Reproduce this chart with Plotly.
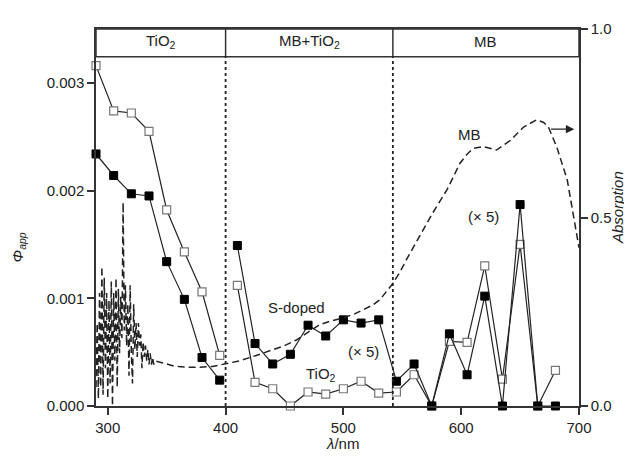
import plotly.graph_objects as go

# ---- data ----
wl = [290, 305, 320, 335, 350, 365, 380, 395, None,
      410, 425, 440, 455, 470, 485, 500, 515, 530,
      545, 560, 575, 590, 605, 620, 635, 650, 665, 680]

phi_tio2 = [0.00316, 0.00274, 0.00272, 0.00255, 0.00182, 0.00143, 0.00106, 0.00047, None,
            0.00112, 0.00022, 0.00016, 0.0, 0.00013, 0.00011, 0.00016, 0.00023, 0.00012,
            0.00013, 0.00029, 0.0, 0.00060, 0.00059, 0.00130, 0.00025, 0.00150, 0.0, 0.00033]

phi_sdoped = [0.00234, 0.00214, 0.00197, 0.00195, 0.00134, 0.00099, 0.00045, 0.00024, None,
              0.00149, 0.00058, 0.00039, 0.00048, 0.00075, 0.00065, 0.00080, 0.00077, 0.00080,
              0.00023, 0.00039, 0.0, 0.00067, 0.00029, 0.00102, 0.0, 0.00187, 0.0, 0.0]

mb_wl = list(range(290, 341)) + [345, 350, 355, 360, 367, 378, 389, 400, 412, 426, 440, 450,
                                  460, 470, 480, 490, 500, 510, 517, 525, 531, 541, 548, 554,
                                  565, 576, 588, 599, 605, 610, 619, 630, 642, 653, 664, 670,
                                  674, 681, 690, 698, 700]
mb_abs = [0.05, 0.22, 0.02, 0.30, 0.05, 0.37, 0.03, 0.34, 0.10, 0.30,
          0.02, 0.28, 0.06, 0.33, 0.00, 0.30, 0.12, 0.34, 0.05, 0.31,
          0.14, 0.29, 0.18, 0.54, 0.20, 0.32, 0.16, 0.27, 0.08, 0.32,
          0.14, 0.06, 0.27, 0.15, 0.22, 0.13, 0.22, 0.16, 0.19, 0.10,
          0.17, 0.13, 0.16, 0.12, 0.15, 0.11, 0.14, 0.11, 0.13, 0.11, 0.12,
          0.115, 0.11, 0.107, 0.105, 0.103, 0.103, 0.105, 0.112, 0.12, 0.134, 0.148, 0.16,
          0.175, 0.195, 0.216, 0.226, 0.234, 0.245, 0.256, 0.268, 0.282, 0.321, 0.355, 0.391,
          0.452, 0.513, 0.574, 0.644, 0.668, 0.683, 0.688, 0.679, 0.705, 0.74, 0.759, 0.752,
          0.74, 0.688, 0.6, 0.452, 0.42]

region_bounds = [290, 400, 542, 700]
region_labels = ["TiO<sub>2</sub>", "MB+TiO<sub>2</sub>", "MB"]

FONT = "Liberation Sans, Arial, sans-serif"
INK = "#222"

fig = go.Figure()

fig.add_trace(go.Scatter(
    x=mb_wl, y=mb_abs, mode="lines", yaxis="y2",
    line=dict(color=INK, width=1.5, dash="7px,4px"),
    showlegend=False, hoverinfo="skip"))

fig.add_trace(go.Scatter(
    x=wl, y=phi_tio2, mode="lines+markers", cliponaxis=False,
    line=dict(color=INK, width=1.2),
    marker=dict(symbol="square", size=8, color="white",
                line=dict(color="#777", width=1.2)),
    showlegend=False))

fig.add_trace(go.Scatter(
    x=wl, y=phi_sdoped, mode="lines+markers", cliponaxis=False,
    line=dict(color=INK, width=1.2),
    marker=dict(symbol="square", size=8, color="black",
                line=dict(color="black", width=1)),
    showlegend=False))

HDR_LO, HDR_HI = 0.003243, 0.0035
shapes = [dict(type="rect", xref="x", yref="y", x0=290, x1=700, y0=HDR_LO, y1=HDR_HI,
               line=dict(color="#333", width=1.5), fillcolor="rgba(0,0,0,0)")]
for xb in region_bounds[1:-1]:
    shapes.append(dict(type="line", xref="x", yref="y", x0=xb, x1=xb, y0=HDR_LO, y1=HDR_HI,
                       line=dict(color="#333", width=1.5)))
    shapes.append(dict(type="line", xref="x", yref="y", x0=xb, x1=xb, y0=0, y1=HDR_LO,
                       line=dict(color=INK, width=1.8, dash="dot")))

annotations = []
for i, lab in enumerate(region_labels):
    annotations.append(dict(x=(region_bounds[i] + region_bounds[i + 1]) / 2, y=0.00338,
                            xref="x", yref="y", text=lab, showarrow=False,
                            font=dict(family=FONT, size=15, color=INK)))

labels = [("MB", 607, 0.00252), ("(× 5)", 619, 0.00176), ("S-doped", 460, 0.00091),
          ("(× 5)", 517, 0.00051), ("TiO<sub>2</sub>", 481, 0.00029)]
for t, x, y in labels:
    annotations.append(dict(x=x, y=y, xref="x", yref="y", text=t, showarrow=False,
                            font=dict(family=FONT, size=15, color=INK)))

annotations.append(dict(x=696, y=0.00257, ax=675, ay=0.00257, xref="x", yref="y",
                        axref="x", ayref="y", text="", showarrow=True,
                        arrowhead=2, arrowsize=1.2, arrowwidth=1.4, arrowcolor=INK))

annotations.append(dict(x=0.511, y=-0.128, xref="paper", yref="paper",
                        text="<i>λ</i>/nm", showarrow=False,
                        font=dict(family=FONT, size=15, color=INK)))
annotations.append(dict(x=-0.185, y=0.421, xref="paper", yref="paper",
                        text="<i>Φ</i><sub><i>app</i></sub>", showarrow=False, textangle=-90,
                        font=dict(family=FONT, size=15, color=INK)))
annotations.append(dict(x=1.101, y=0.526, xref="paper", yref="paper",
                        text="<i>Absorption</i>", showarrow=False, textangle=-90,
                        font=dict(family=FONT, size=15, color=INK)))

fig.update_layout(
    width=632, height=464,
    margin=dict(l=88, r=61, t=16, b=66),
    plot_bgcolor="white", paper_bgcolor="white",
    font=dict(family=FONT, size=15, color=INK),
    shapes=shapes, annotations=annotations,
    xaxis=dict(range=[290, 700], tickvals=[300, 400, 500, 600, 700],
               showgrid=False, zeroline=False, showline=True, mirror=True,
               linecolor="#333", linewidth=1.5, ticks="outside", ticklen=7,
               tickwidth=1.5, tickcolor="#333"),
    yaxis=dict(range=[0, 0.0035], tickvals=[0, 0.001, 0.002, 0.003],
               ticktext=["0.000", "0.001", "0.002", "0.003"],
               showgrid=False, zeroline=False, showline=True,
               linecolor="#333", linewidth=1.5, ticks="outside", ticklen=7,
               tickwidth=1.5, tickcolor="#333"),
    yaxis2=dict(range=[0, 1], overlaying="y", side="right",
                tickvals=[0, 0.5, 1.0], ticktext=["0.0", "0.5", "1.0"],
                showgrid=False, zeroline=False, showline=True,
                linecolor="#333", linewidth=1.5, ticks="outside", ticklen=7,
                tickwidth=1.5, tickcolor="#333"),
)

fig.write_html("out.html")
